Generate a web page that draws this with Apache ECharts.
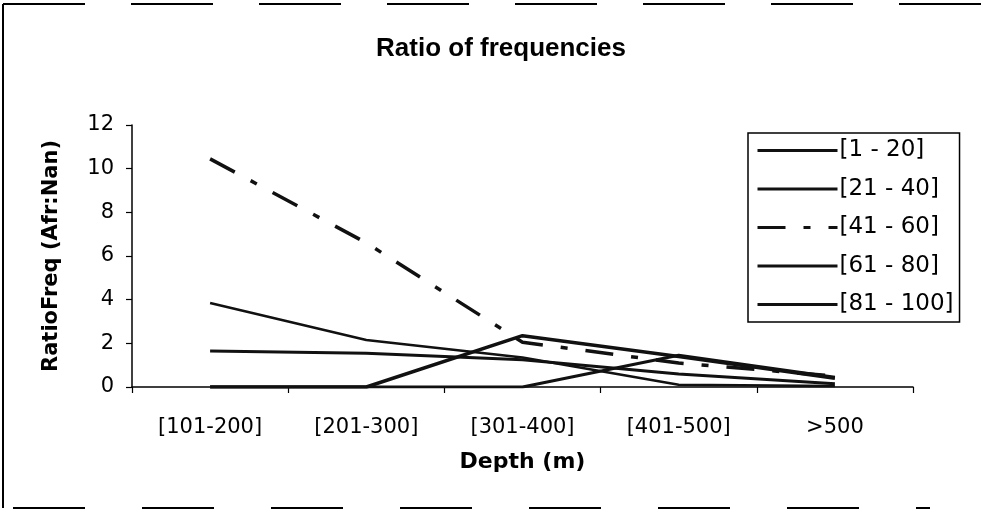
<!DOCTYPE html>
<html>
<head>
<meta charset="utf-8">
<script src="https://cdn.jsdelivr.net/npm/echarts@6/dist/echarts.min.js"></script>
<style>
  html, body { margin: 0; padding: 0; background: #fff; }
  #chart { width: 1002px; height: 512px; }
</style>
</head>
<body>
<div id="chart"></div>
<script>
// Depth classes on the x axis
const depthClasses = ['[101-200]', '[201-300]', '[301-400]', '[401-500]', '>500'];

// Ratio of frequencies (Afr:Nan) per length class
const seriesNames = ['[1 - 20]', '[21 - 40]', '[41 - 60]', '[61 - 80]', '[81 - 100]'];
const ratio1to20   = [1.65, 1.55, 1.25, 0.60, 0.15];
const ratio21to40  = [3.85, 2.15, 1.35, 0.10, 0.05];
const ratio41to60  = [10.45, 6.60, 2.05, 1.10, 0.50];
const ratio61to80  = [0, 0, 0, 1.45, 0.45];
const ratio81to100 = [0, 0, 2.35, 1.40, 0.40];

const yTicks = { min: 0, max: 12, interval: 2 };

const FONT = 'DejaVu Sans';
const INK = '#111';

function lineSeries(name, data, width, dash) {
  return {
    name: name,
    type: 'line',
    data: data,
    symbol: 'none',
    smooth: false,
    lineStyle: { color: INK, width: width, type: dash || 'solid' },
    itemStyle: { color: INK },
    emphasis: { disabled: true }
  };
}

const chart = echarts.init(document.getElementById('chart'), null, { renderer: 'canvas' });

chart.setOption({
  animation: false,
  backgroundColor: '#fff',
  textStyle: { fontFamily: FONT, color: '#000' },
  title: {
    text: 'Ratio of frequencies',
    left: 'center',
    top: 31,
    textStyle: { fontFamily: 'Liberation Sans', fontSize: 26, fontWeight: 'bold', color: '#000' }
  },
  grid: { left: 132, right: 89, top: 125, bottom: 125, containLabel: false },
  legend: {
    orient: 'vertical',
    left: 748,
    top: 133,
    padding: [6, 6, 6, 8],
    itemWidth: 80,
    itemHeight: 18,
    itemGap: 15.5,
    borderColor: '#000',
    borderWidth: 1.5,
    itemStyle: { color: 'rgba(0,0,0,0)', borderWidth: 0, opacity: 0 },
    lineStyle: { width: 3 },
    textStyle: { fontFamily: FONT, fontSize: 23, color: '#000', padding: [0, 0, 0, -3] },
    data: seriesNames
  },
  xAxis: {
    type: 'category',
    data: depthClasses,
    boundaryGap: true,
    name: 'Depth (m)',
    nameLocation: 'middle',
    nameGap: 64,
    nameTextStyle: { fontFamily: FONT, fontSize: 22, fontWeight: 'bold', color: '#000' },
    axisLine: { lineStyle: { color: '#000', width: 1.5 } },
    axisTick: { show: true, length: 6, lineStyle: { color: '#000', width: 1.2 } },
    axisLabel: { fontFamily: FONT, fontSize: 21, color: '#000', margin: 30 },
    splitLine: { show: false }
  },
  yAxis: {
    type: 'value',
    min: yTicks.min,
    max: yTicks.max,
    interval: yTicks.interval,
    name: 'RatioFreq (Afr:Nan)',
    nameLocation: 'middle',
    nameGap: 70,
    nameTextStyle: { fontFamily: FONT, fontSize: 21, fontWeight: 'bold', color: '#000' },
    axisLine: { show: true, lineStyle: { color: '#000', width: 1.5 } },
    axisTick: { show: true, length: 6, lineStyle: { color: '#000', width: 1.2 } },
    axisLabel: { fontFamily: FONT, fontSize: 21, color: '#000', margin: 18 },
    splitLine: { show: false }
  },
  series: [
    lineSeries(seriesNames[0], ratio1to20, 3),
    lineSeries(seriesNames[1], ratio21to40, 2.5),
    lineSeries(seriesNames[2], ratio41to60, 3.5, [28, 18, 7, 18]),
    lineSeries(seriesNames[3], ratio61to80, 3),
    lineSeries(seriesNames[4], ratio81to100, 3.5)
  ],
  graphic: [
    // outer frame of the chart area
    { type: 'line', shape: { x1: 3, y1: 4, x2: 3, y2: 508 }, style: { stroke: '#000', lineWidth: 2 } },
    { type: 'line', shape: { x1: 3, y1: 4, x2: 1002, y2: 4 }, style: { stroke: '#000', lineWidth: 2, lineDash: [82, 46] } },
    { type: 'line', shape: { x1: 13, y1: 508, x2: 930, y2: 508 }, style: { stroke: '#000', lineWidth: 2, lineDash: [72, 57] } }
  ]
});
</script>
</body>
</html>
